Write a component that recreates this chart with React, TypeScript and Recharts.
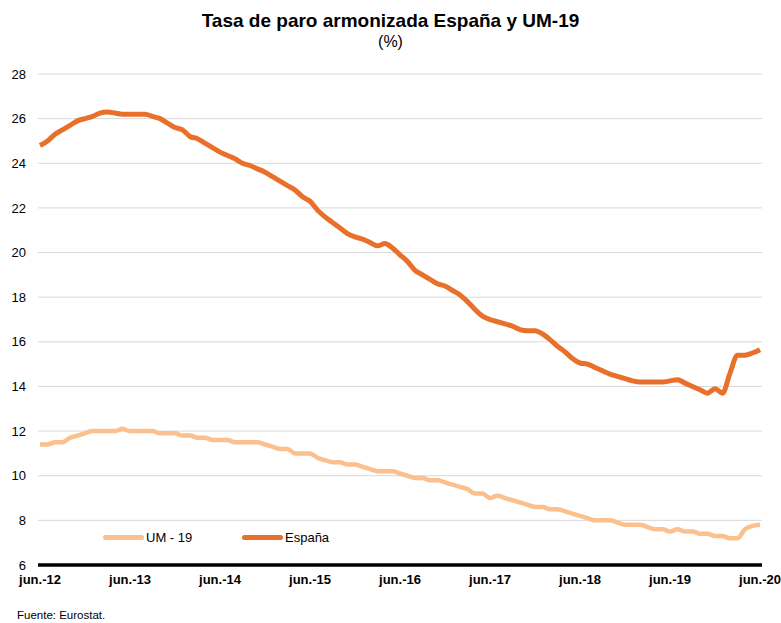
import { LineChart, Line, XAxis, YAxis, CartesianGrid } from 'recharts';

// Monthly, jun-12 .. jun-20 (97 months)
const espana = [
  24.8, 25.0, 25.3, 25.5, 25.7, 25.9, 26.0, 26.1, 26.25, 26.3, 26.25, 26.2,
  26.2, 26.2, 26.2, 26.1, 26.0, 25.8, 25.6, 25.5, 25.2, 25.1, 24.9, 24.7,
  24.5, 24.35, 24.2, 24.0, 23.9, 23.75, 23.6, 23.4, 23.2, 23.0, 22.8, 22.5,
  22.3, 21.9, 21.6, 21.35, 21.1, 20.85, 20.7, 20.6, 20.45, 20.3, 20.4, 20.2,
  19.9, 19.6, 19.2, 19.0, 18.8, 18.6, 18.5, 18.3, 18.1, 17.8, 17.45, 17.15,
  17.0, 16.9, 16.8, 16.7, 16.55, 16.5, 16.5, 16.35, 16.1, 15.8, 15.55, 15.25,
  15.05, 15.0, 14.85, 14.7, 14.55, 14.45, 14.35, 14.25, 14.2, 14.2, 14.2, 14.2,
  14.25, 14.3, 14.15, 14.0, 13.85, 13.7, 13.9, 13.7, 14.6, 15.4, 15.4, 15.5,
  15.65,
];

const um19 = [
  11.4, 11.4, 11.5, 11.5, 11.7, 11.8, 11.9, 12.0, 12.0, 12.0, 12.0, 12.1,
  12.0, 12.0, 12.0, 12.0, 11.9, 11.9, 11.9, 11.8, 11.8, 11.7, 11.7, 11.6,
  11.6, 11.6, 11.5, 11.5, 11.5, 11.5, 11.4, 11.3, 11.2, 11.2, 11.0, 11.0,
  11.0, 10.8, 10.7, 10.6, 10.6, 10.5, 10.5, 10.4, 10.3, 10.2, 10.2, 10.2,
  10.1, 10.0, 9.9, 9.9, 9.8, 9.8, 9.7, 9.6, 9.5, 9.4, 9.2, 9.2,
  9.0, 9.1, 9.0, 8.9, 8.8, 8.7, 8.6, 8.6, 8.5, 8.5, 8.4, 8.3,
  8.2, 8.1, 8.0, 8.0, 8.0, 7.9, 7.8, 7.8, 7.8, 7.7, 7.6, 7.6,
  7.5, 7.6, 7.5, 7.5, 7.4, 7.4, 7.3, 7.3, 7.2, 7.2, 7.6, 7.75,
  7.8,
];

const xTicks = [0, 12, 24, 36, 48, 60, 72, 84, 96];
const xLabels = ['jun.-12', 'jun.-13', 'jun.-14', 'jun.-15', 'jun.-16', 'jun.-17', 'jun.-18', 'jun.-19', 'jun.-20'];
const yTicks = [6, 8, 10, 12, 14, 16, 18, 20, 22, 24, 26, 28];

const data = espana.map((v, i) => ({ i, espana: v, um19: um19[i] }));

const FONT = '"Liberation Sans", Arial, sans-serif';

const legendItems = [
  { label: 'UM - 19', color: '#FBC08D', left: 103 },
  { label: 'España', color: '#E8702A', left: 242 },
];

export default function App() {
  return (
    <div style={{ position: 'absolute', left: 0, top: 0, width: 781, height: 623, background: '#fff', fontFamily: FONT, color: '#000' }}>
      <div style={{ position: 'absolute', top: 10, left: 0, width: 781, textAlign: 'center', fontSize: 19, fontWeight: 'bold' }}>
        Tasa de paro armonizada España y UM-19
      </div>
      <div style={{ position: 'absolute', top: 33, left: 0, width: 781, textAlign: 'center', fontSize: 16 }}>
        (%)
      </div>
      <LineChart width={781} height={623} data={data} margin={{ top: 74, right: 19, bottom: 28, left: 0 }}>
        <CartesianGrid vertical={false} stroke="#D9D9D9" strokeWidth={1} />
        <XAxis
          dataKey="i"
          type="number"
          domain={[0, 96]}
          ticks={xTicks}
          tickFormatter={(v: number) => xLabels[xTicks.indexOf(v)]}
          padding={{ left: 2, right: 2 }}
          height={30}
          tickLine={false}
          tickMargin={4}
          axisLine={{ stroke: '#000', strokeWidth: 3.5 }}
          tick={{ fill: '#000', fontSize: 13, fontWeight: 'bold', fontFamily: FONT }}
          interval={0}
        />
        <YAxis
          domain={[6, 28]}
          ticks={yTicks}
          width={38}
          tickLine={false}
          axisLine={false}
          tickMargin={6}
          tick={{ fill: '#000', fontSize: 13, fontFamily: FONT }}
          interval={0}
        />
        <Line
          type="monotone"
          dataKey="um19"
          stroke="#FBC08D"
          strokeWidth={4.5}
          dot={false}
          isAnimationActive={false}
        />
        <Line
          type="monotone"
          dataKey="espana"
          stroke="#E8702A"
          strokeWidth={5}
          dot={false}
          isAnimationActive={false}
        />
      </LineChart>
      {legendItems.map((it) => (
        <div
          key={it.label}
          style={{ position: 'absolute', top: 530, left: it.left, display: 'flex', alignItems: 'center', fontSize: 13 }}
        >
          <div style={{ width: 41, height: 5, background: it.color, borderRadius: 3, marginRight: 2 }} />
          <span>{it.label}</span>
        </div>
      ))}
      <div style={{ position: 'absolute', top: 609, left: 17, fontSize: 11.5 }}>Fuente: Eurostat.</div>
    </div>
  );
}
